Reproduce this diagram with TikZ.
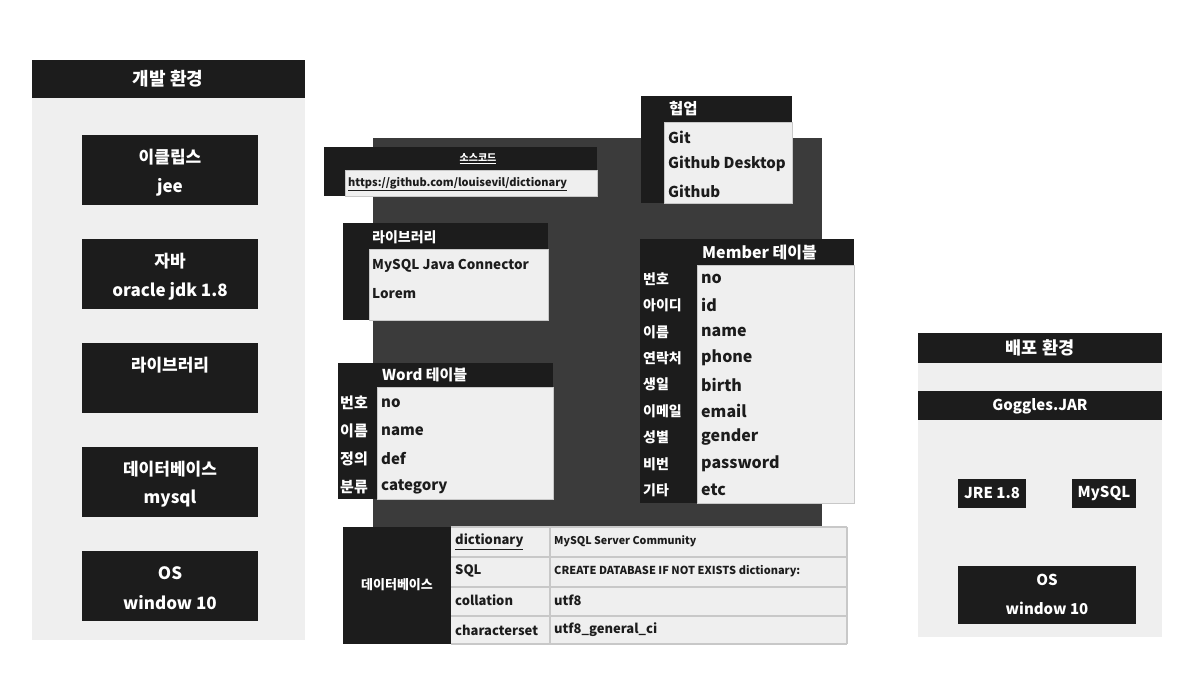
\documentclass[tikz,border=0pt]{standalone}
\usepackage{fontspec}
\setmainfont{Noto Sans CJK KR}
\usetikzlibrary{calc}

\definecolor{blk}{HTML}{1C1C1C}
\definecolor{pale}{HTML}{EFEFEF}
\definecolor{slate}{HTML}{3B3B3B}
\definecolor{rule}{HTML}{C8C8C8}

\newcommand{\fs}[1]{\fontsize{#1}{#1}\selectfont\bfseries}

\begin{document}
\begin{tikzpicture}[x=1pt,y=-1pt,
  lab/.style={text=white,font=\fs{15},inner sep=0},
  txt/.style={text=blk,font=\fs{15},inner sep=0,anchor=west},
  card/.style={fill=pale,draw=rule,line width=0.6}]
\useasboundingbox[fill=white] (0,0) rectangle (1196,672);

% development environment
\fill[pale] (32,60) rectangle (305,640);
\fill[blk] (32,60) rectangle (305,98);
\node[lab, font=\fs{18}] (devenv) at (168,79) {개발 환경};
\foreach \y/\ka/\kb [count=\i] in {135/이클립스/jee, 239/자바/oracle jdk 1.8, 343/라이브러리/, 447/데이터베이스/mysql, 551/OS/window 10} {
 \fill[blk] (82,\y) rectangle (258,\y+70);
 \node[lab, font=\fs{17}] (dev\i a) at (170,\y+22) {\ka};
 \node[lab, font=\fs{17}] (dev\i b) at (170,\y+52) {\kb};
}

% source
\fill[slate] (373,138) rectangle (822,527);
\fill[blk] (324,147) rectangle (597,196);
\draw[card] (345,170) rectangle (597,196);
\node[lab, font=\fs{10}] (srchd) at (478,159) {\underline{소스코드}};
\node[txt, font=\fs{11}] (srcurl) at (348,184) {\underline{https://github.com/louisevil/dictionary}};

% collaboration
\fill[blk] (641,96) rectangle (792,203);
\draw[card] (664,122) rectangle (792,203);
\node[lab, anchor=west, font=\fs{15.5}] (collab) at (669,109) {협업};
\foreach \t [count=\i] in {Git, Github Desktop, Github}
 \node[txt] (collab\i) at (668,110+27*\i) {\t};

% library
\fill[blk] (343,223) rectangle (548,320);
\draw[card] (369,249) rectangle (548,320);
\node[lab, anchor=west, font=\fs{14}] (libhd) at (372,237) {라이브러리};
\foreach \t [count=\i] in {MySQL Java Connector, Lorem}
 \node[txt, font=\fs{13.5}] (lib\i) at (372,238+28*\i) {\t};

% member table
\fill[blk] (640,239) rectangle (854,503);
\draw[card] (697,265) rectangle (854,503);
\node[lab, anchor=west, font=\fs{16}] (memhd) at (702,253) {Member 테이블};
\foreach \k/\v [count=\i] in {번호/no, 아이디/id, 이름/name, 연락처/phone, 생일/birth, 이메일/email, 성별/gender, 비번/password, 기타/etc} {
 \node[lab, anchor=west, font=\fs{14}] (memk\i) at (643,252.6+26.4*\i) {\k};
 \node[txt, font=\fs{16}] (memv\i) at (701,252.6+26.4*\i) {\v};
}

% word table
\fill[blk] (338,363) rectangle (553,499);
\draw[card] (377,387) rectangle (553,499);
\node[lab, anchor=west] (wordhd) at (382,375) {Word 테이블};
\foreach \k/\v [count=\i] in {번호/no, 이름/name, 정의/def, 분류/category} {
 \node[lab, anchor=west] (wordk\i) at (340,375+28*\i) {\k};
 \node[txt] (wordv\i) at (381,375+28*\i) {\v};
}

% database
\fill[pale] (343,527) rectangle (847,644);
\fill[blk] (343,527) rectangle (451,644);
\foreach \y in {527,557,587,616,644}
 \draw[rule, line width=1.5] (451,\y) -- (847,\y);
\foreach \x in {550,847}
 \draw[rule, line width=1.5] (\x,527) -- (\x,644);
\node[lab, font=\fs{13}] (dbhd) at (397,585) {데이터베이스};
\foreach \k/\v/\s [count=\i] in {\underline{dictionary}/MySQL Server Community/10.7, SQL/CREATE DATABASE IF NOT EXISTS dictionary:/11, collation/utf8/13, characterset/utf8\_general\_ci/13} {
 \node[txt, font=\fs{13}] (dbk\i) at (455,512+29.5*\i) {\k};
 \node[txt, font=\fs{\s}] (dbv\i) at (554,512+29.5*\i) {\v};
}

% deployment environment
\fill[pale] (918,333) rectangle (1162,637);
\fill[blk] (918,333) rectangle (1162,363);
\node[lab, font=\fs{17.5}] (depenv) at (1040,348) {배포 환경};
\fill[blk] (918,391) rectangle (1162,420);
\node[lab] (jar) at (1040,406) {Goggles.JAR};
\fill[blk] (958,479) rectangle (1026,508);
\node[lab] (jre) at (992,493) {JRE 1.8};
\fill[blk] (1072,479) rectangle (1136,508);
\node[lab] (mysql) at (1104,493) {MySQL};
\fill[blk] (958,566) rectangle (1136,624);
\node[lab] (osa) at (1047,580) {OS};
\node[lab] (osb) at (1047,608) {window 10};
\end{tikzpicture}
\end{document}
